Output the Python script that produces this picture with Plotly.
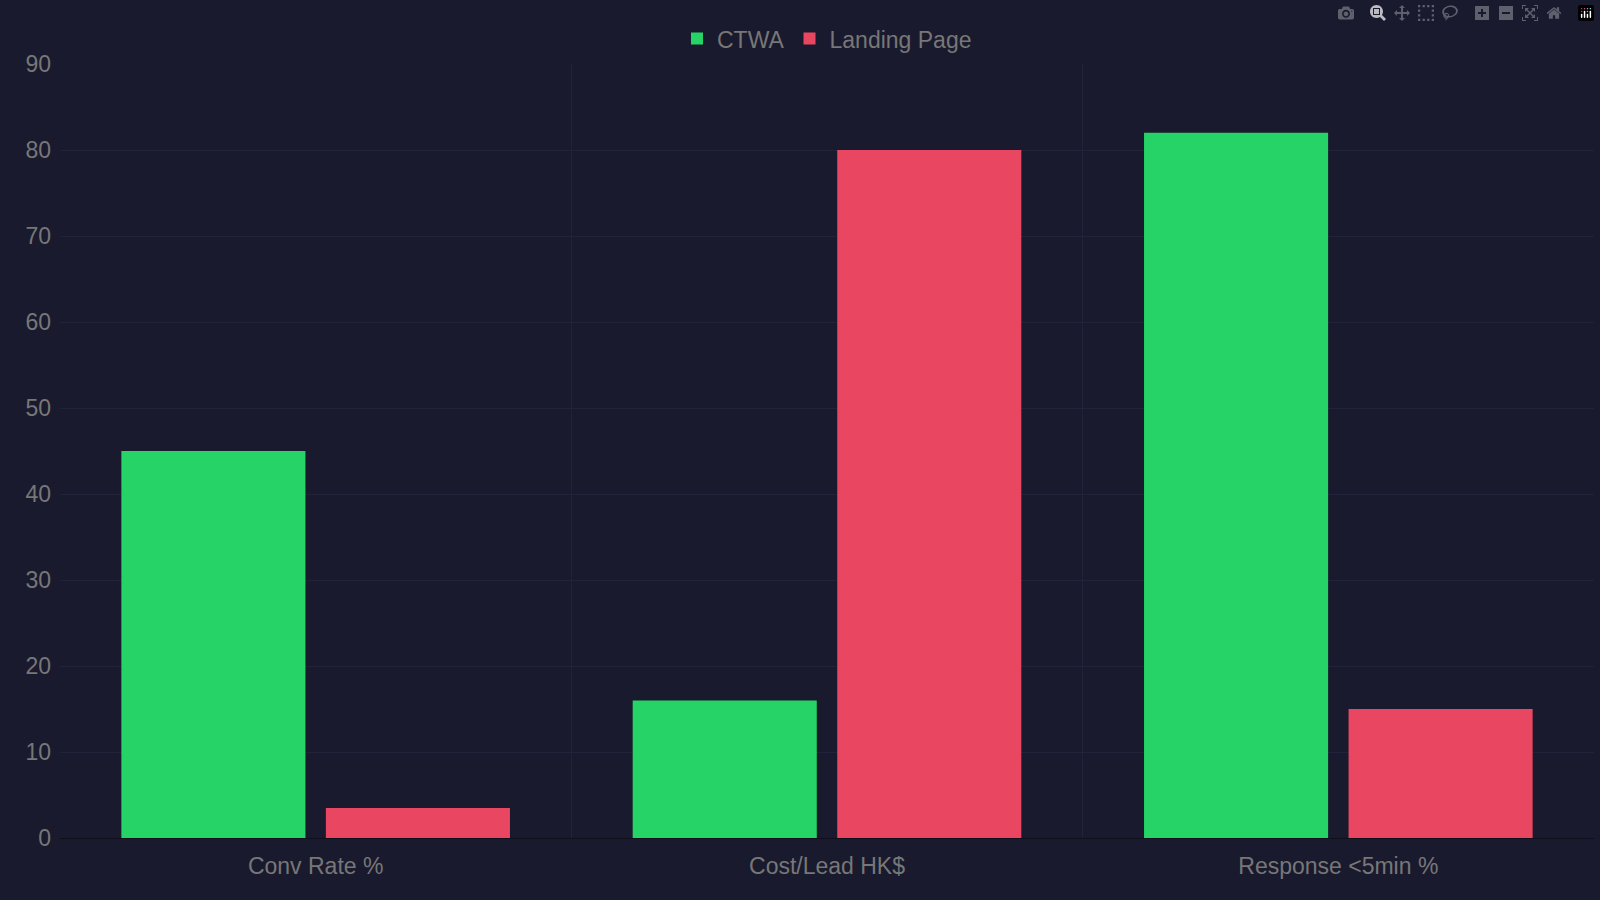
import plotly.graph_objects as go

categories = ["Conv Rate %", "Cost/Lead HK$", "Response <5min %"]
ctwa = [45, 16, 82]
landing_page = [3.5, 80, 15]

bg = "#1a1a2e"
grid = "#22223a"
text = "#777777"

fig = go.Figure()
fig.add_trace(go.Bar(name="CTWA", x=categories, y=ctwa, marker_color="#25d366",
                     marker_line_width=0))
fig.add_trace(go.Bar(name="Landing Page", x=categories, y=landing_page, marker_color="#e84661",
                     marker_line_width=0))

fig.update_layout(
    width=1600, height=900,
    paper_bgcolor=bg, plot_bgcolor=bg,
    barmode="group", bargap=0.2, bargroupgap=0.1,
    font=dict(family="Liberation Sans, Arial, sans-serif", size=23, color=text),
    margin=dict(l=60, r=6, t=64, b=62),
    legend=dict(orientation="h", x=0.5, xanchor="center", y=1.005, yanchor="bottom",
                font=dict(size=23, color=text), bgcolor="rgba(0,0,0,0)"),
    xaxis=dict(tickson="boundaries", showgrid=True, gridcolor=grid, ticks="",
               showline=False, zeroline=False, ticklabelstandoff=12),
    yaxis=dict(range=[0, 90], dtick=10, showgrid=True, gridcolor=grid,
               zeroline=True, zerolinecolor="#0f0f1c", zerolinewidth=1, ticks="",
               ticklabelstandoff=8),
)

fig.write_html("out.html",
               post_script="document.body.style.margin='0';document.body.style.background='#1a1a2e';")
